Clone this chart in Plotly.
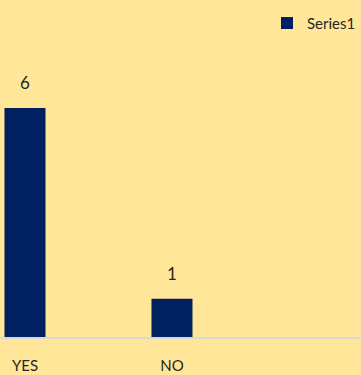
import plotly.graph_objects as go

categories = ["YES", "NO"]
values = [6, 1]
series_name = "Series1"

fig = go.Figure()
fig.add_trace(go.Bar(
    x=categories, y=values, name=series_name,
    marker=dict(color="#002060", line=dict(width=0)),
    width=0.279,
    showlegend=True,
))
for c, v in zip(categories, values):
    fig.add_annotation(x=c, y=v, text=str(v), showarrow=False,
                       yanchor="bottom", yshift=13,
                       font=dict(size=17, color="#262626", family="Lato"))
fig.update_layout(
    width=361, height=375,
    margin=dict(l=0, r=0, t=0, b=38),
    paper_bgcolor="#FFE699", plot_bgcolor="#FFE699",
    font=dict(family="Lato", color="#262626"),
    showlegend=True,
    legend=dict(x=1.0, y=0.98, xanchor="right", yanchor="top",
                bgcolor="rgba(0,0,0,0)", font=dict(size=15, color="#262626"),
                itemwidth=30),
    xaxis=dict(type="category", range=[-0.17, 2.286], showgrid=False,
               showline=True, linecolor="#D9D9D9", linewidth=2,
               ticks="", ticklabelstandoff=14,
               tickfont=dict(size=15, color="#262626"), zeroline=False),
    yaxis=dict(range=[0, 8.83], visible=False, showgrid=False, zeroline=False),
)
fig.write_html("out.html", config={"displayModeBar": False},
               post_script="document.body.style.margin='0';document.body.style.padding='0';")
